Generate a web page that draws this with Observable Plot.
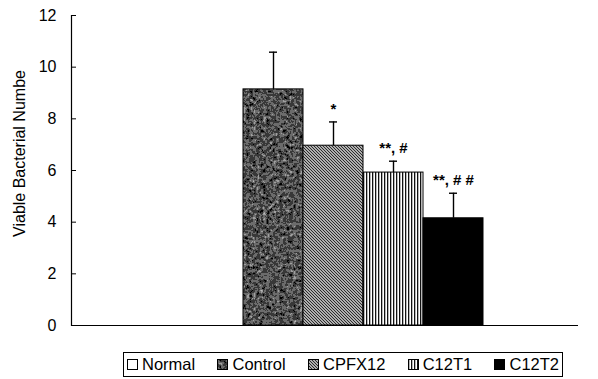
<!DOCTYPE html>
<html>
<head>
<meta charset="utf-8">
<script src="https://cdn.jsdelivr.net/npm/d3@7"></script>
<script src="https://cdn.jsdelivr.net/npm/@observablehq/plot@0.6"></script>
<style>
  body { margin: 0; background: #fff; font-family: "Liberation Sans", Arial, sans-serif; }
  #wrap { position: relative; width: 598px; height: 379px; }
  #legend {
    position: absolute; left: 123px; top: 352px; width: 440px; height: 25px;
    border: 1px solid #000; box-sizing: border-box;
    display: flex; align-items: center; justify-content: space-between;
    padding: 0 3px; font-size: 16.5px; color: #000; line-height: 1;
  }
  #legend .item { display: flex; align-items: center; gap: 4px; }
  #legend svg { display: block; }
</style>
</head>
<body>
<div id="wrap">
  <div id="chart"></div>
  <div id="legend"></div>
</div>
<script>
// ---- data ----
const categories = ["Normal", "Control", "CPFX12", "C12T1", "C12T2"];
const means = [0, 9.14, 6.96, 5.92, 4.15];
const errors = [0, 1.44, 0.92, 0.44, 0.97];
const marks = ["", "", "*", "**, #", "**, # #"];
const yTicks = [0, 2, 4, 6, 8, 10, 12];
const yLabel = "Viable Bacterial Numbe";

const fills = ["#ffffff", "url(#pCtrl)", "url(#pCpfx)", "url(#pT1)", "#000000"];

const data = categories.map((c, i) => ({cat: c, mean: means[i], top: means[i] + errors[i], mark: marks[i]}));
const barData = data.filter(d => d.mean > 0);

const chart = Plot.plot({
  width: 598,
  height: 335,
  marginLeft: 71,
  marginRight: 20,
  marginTop: 15,
  marginBottom: 10,
  style: {fontFamily: "'Liberation Sans', Arial, sans-serif", fontSize: "16px", color: "#000", background: "#fff"},
  x: {domain: categories, range: [182, 483], padding: 0, axis: null},
  y: {domain: [0, 12]},
  color: {domain: categories, range: fills},
  marks: [
    Plot.barY(barData, {x: "cat", y: "mean", fill: "cat", stroke: "#000", strokeWidth: 1}),
    Plot.ruleX(barData, {x: "cat", y1: "mean", y2: "top", stroke: "#000", strokeWidth: 1.4}),
    Plot.tickY(barData, {x: "cat", y: "top", stroke: "#000", strokeWidth: 1.4, insetLeft: 26, insetRight: 26}),
    Plot.text(data.filter(d => d.mark), {x: "cat", y: "top", text: "mark", dy: -13, fontSize: 15, fontWeight: "bold", fill: "#000"}),
    Plot.ruleY([0], {stroke: "#000", strokeWidth: 1.2}),
    Plot.tickY(yTicks, {y: d => d, stroke: "#000", insetRight: 502}),
    Plot.frame({anchor: "left", stroke: "#000", strokeWidth: 1.2}),
    Plot.axisY(yTicks, {tickSize: 0, tickPadding: 15, fontSize: 16, label: null}),
    Plot.text([yLabel], {frameAnchor: "left", textAnchor: "middle", rotate: -90, dx: -52, dy: -17, fontSize: 16, fill: "#000"})
  ]
});

const defs = `
<defs>
  <filter id="fNoise" x="0" y="0" width="100%" height="100%">
    <feTurbulence type="fractalNoise" baseFrequency="0.3" numOctaves="4" seed="11" result="n"/>
    <feColorMatrix in="n" type="matrix" values="0.33 0.33 0.33 0 0  0.33 0.33 0.33 0 0  0.33 0.33 0.33 0 0  0 0 0 0 1" result="g"/>
    <feComponentTransfer in="g">
      <feFuncR type="discrete" tableValues="0 0 0 0.04 0.15 0.35 0.5 0.85"/>
      <feFuncG type="discrete" tableValues="0 0 0 0.04 0.15 0.35 0.5 0.85"/>
      <feFuncB type="discrete" tableValues="0 0 0 0.04 0.15 0.35 0.5 0.85"/>
    </feComponentTransfer>
  </filter>
  <pattern id="pCtrl" patternUnits="userSpaceOnUse" width="120" height="240">
    <rect width="120" height="240" fill="#222" filter="url(#fNoise)"/>
  </pattern>
  <pattern id="pCpfx" patternUnits="userSpaceOnUse" width="3" height="3">
    <rect width="3" height="3" fill="#e8e8e8"/>
    <path d="M-1,-1L4,4M-1,2L1,4M2,-1L4,1" stroke="#222" stroke-width="1.1"/>
  </pattern>
  <pattern id="pT1" patternUnits="userSpaceOnUse" width="3" height="10">
    <rect width="3" height="10" fill="#fff"/>
    <rect x="0" width="1.3" height="10" fill="#111"/>
  </pattern>
</defs>`;
d3.select(chart).insert("g", ":first-child").html(defs);
document.getElementById("chart").appendChild(chart);

// legend
const legend = d3.select("#legend");
categories.forEach((c, i) => {
  const item = legend.append("div").attr("class", "item");
  const sw = item.append("svg").attr("width", 11).attr("height", 11);
  sw.append("rect").attr("x", 0.5).attr("y", 0.5).attr("width", 10).attr("height", 10)
    .attr("fill", fills[i]).attr("stroke", "#000").attr("stroke-width", 1);
  item.append("span").text(c);
});
</script>
</body>
</html>
